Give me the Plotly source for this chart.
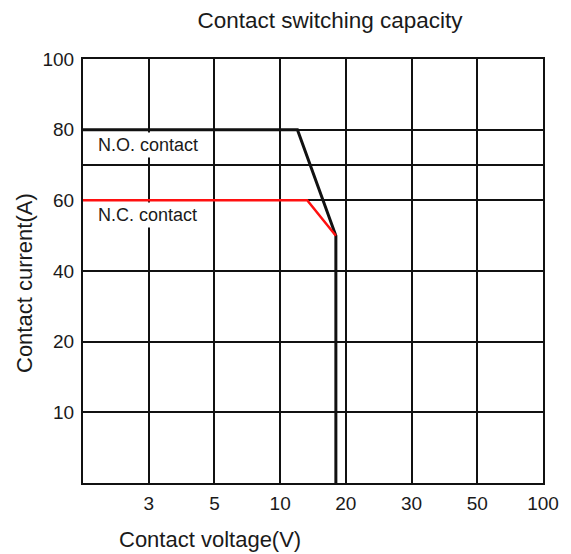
import numpy as np
import plotly.graph_objects as go

# Axis scale definitions (evenly spaced, non-uniform values)
x_scale_values = [2, 3, 5, 10, 20, 30, 50, 100]
x_tick_labels = ["", "3", "5", "10", "20", "30", "50", "100"]
y_scale_values = [0, 10, 20, 40, 60, 80, 100]
y_grid_values = [0, 10, 20, 40, 60, 70, 80, 100]
y_tick_labels = ["", "10", "20", "40", "60", "", "80", "100"]

# Curves
no_voltage = [2, 12, 18, 18]
no_current = [80, 80, 50, 0]
nc_voltage = [2, 13.3, 18]
nc_current = [60, 60, 50]

x_idx = np.arange(len(x_scale_values))
y_idx = np.arange(len(y_scale_values))


def xpos(v):
    return np.interp(np.log10(v), np.log10(x_scale_values), x_idx)


def ypos(v):
    return np.interp(v, y_scale_values, y_idx)


FONT = "Liberation Sans, Arial, sans-serif"
W, H = 563, 546
ML, MR, MT, MB = 75, 24, 51, 71
PW, PH = W - ML - MR, H - MT - MB

fig = go.Figure()
fig.add_trace(go.Scatter(x=xpos(no_voltage), y=ypos(no_current), mode="lines",
                         line=dict(color="#111111", width=3), name="N.O. contact",
                         showlegend=False))
fig.add_trace(go.Scatter(x=xpos(nc_voltage), y=ypos(nc_current), mode="lines",
                         line=dict(color="#ff1010", width=2.5), name="N.C. contact",
                         showlegend=False))

fig.add_annotation(x=xpos([2])[0], y=ypos([80])[0], text="N.O. contact", xref="x", yref="y",
                   xanchor="left", yanchor="top", xshift=12, yshift=-2,
                   showarrow=False, bgcolor="white", borderpad=2,
                   font=dict(family=FONT, size=18, color="#1a1a1a"))
fig.add_annotation(x=xpos([2])[0], y=ypos([60])[0], text="N.C. contact", xref="x", yref="y",
                   xanchor="left", yanchor="top", xshift=12, yshift=-2,
                   showarrow=False, bgcolor="white", borderpad=2,
                   font=dict(family=FONT, size=18, color="#1a1a1a"))

# Axis titles (offset from plot centre as in the reference)
fig.add_annotation(x=(203 - ML) / PW, y=0, xref="paper", yref="paper",
                   xanchor="center", yanchor="middle", yshift=-56,
                   text="Contact voltage(V)", showarrow=False,
                   font=dict(family=FONT, size=22, color="#1a1a1a"))
fig.add_annotation(x=0, y=(MT + PH - 275) / PH, xref="paper", yref="paper",
                   xanchor="center", yanchor="middle", xshift=16 - ML,
                   textangle=-90, text="Contact current(A)", showarrow=False,
                   font=dict(family=FONT, size=22, color="#1a1a1a"))

fig.update_layout(
    width=W, height=H,
    margin=dict(l=ML, r=MR, t=MT, b=MB),
    paper_bgcolor="white", plot_bgcolor="white",
    font=dict(family=FONT, color="#1a1a1a"),
    title=dict(text="Contact switching capacity", x=322 / W, xanchor="center",
               y=1 - 12 / H, yanchor="middle",
               font=dict(family=FONT, size=22.5, color="#1a1a1a")),
    showlegend=False,
)
fig.update_xaxes(
    range=[0, len(x_scale_values) - 1],
    tickmode="array", tickvals=list(x_idx), ticktext=x_tick_labels,
    showgrid=True, gridcolor="#111111", gridwidth=2,
    showline=True, linecolor="#111111", linewidth=2, mirror=True,
    ticks="", zeroline=False, ticklabelstandoff=2,
    tickfont=dict(family=FONT, size=19, color="#1a1a1a"),
)
fig.update_yaxes(
    range=[0, len(y_scale_values) - 1],
    tickmode="array", tickvals=list(ypos(y_grid_values)), ticktext=y_tick_labels,
    showgrid=True, gridcolor="#111111", gridwidth=2,
    showline=True, linecolor="#111111", linewidth=2, mirror=True,
    ticks="", zeroline=False, ticklabelstandoff=3,
    tickfont=dict(family=FONT, size=19, color="#1a1a1a"),
)

fig.write_html("out.html")
